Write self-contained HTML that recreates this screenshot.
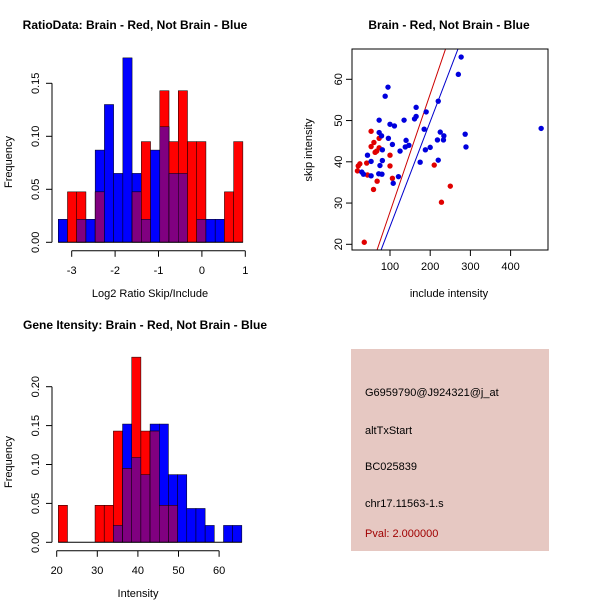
<!DOCTYPE html>
<html><head><meta charset="utf-8"><style>
html,body{margin:0;padding:0;background:#fff;width:600px;height:600px;overflow:hidden}
svg text{font-family:"Liberation Sans",sans-serif}
</style></head><body>
<svg id="s" width="600" height="600" viewBox="0 0 600 600" xmlns="http://www.w3.org/2000/svg">
<rect x="351" y="349" width="198" height="202" fill="#e6c8c2"/>
<text x="365" y="396" font-size="11">G6959790@J924321@j_at</text>
<text x="365" y="434" font-size="11">altTxStart</text>
<text x="365" y="470" font-size="11">BC025839</text>
<text x="365" y="507" font-size="11">chr17.11563-1.s</text>
<text x="365" y="537" font-size="11" fill="#a00000">Pval: 2.000000</text>
</svg>
<script>
// Ratio histogram data
const ratioBinStart = -3.31, ratioBinWidth = 0.2127;
const ratioBlue = [0.0217,0,0.0217,0.0217,0.087,0.130,0.065,0.174,0.065,0.0217,0.087,0.109,0.065,0.065,0,0.0217,0.0217,0.0217,0,0];
const ratioRed  = [0,0.0476,0.0476,0,0.0476,0,0,0,0.0476,0.095,0,0.143,0.095,0.143,0.095,0.095,0,0,0.0476,0.095];
const ratioXTicks = [-3,-2,-1,0,1];
const ratioYTicks = [0,0.05,0.10,0.15];
const ratioYLabels = ["0.00","0.05","0.10","0.15"];
// Intensity histogram data
const intBinStart = 20.4, intBinWidth = 2.26;
const intBlue = [0,0,0,0,0,0,0.0217,0.152,0.109,0.087,0.152,0.152,0.087,0.087,0.0435,0.0435,0.0217,0,0.0217,0.0217];
const intRed  = [0.0476,0,0,0,0.0476,0.0476,0.143,0.095,0.238,0.143,0.143,0.0476,0.0476,0,0,0,0,0,0,0];
const intXTicks = [20,30,40,50,60];
const intYTicks = [0,0.05,0.10,0.15,0.20];
const intYLabels = ["0.00","0.05","0.10","0.15","0.20"];
// Scatter data
const redX = [21,25,19,42,44,36,53,53,60,63,67,73,73,68,59,100,100,106,210,228,250];
const redY = [39.0,39.5,37.8,39.7,36.8,20.5,47.4,43.7,44.7,42.3,42.6,43.4,45.7,35.3,33.3,41.6,39.0,36.0,39.2,30.2,34.1];
const blueX = [30,34,44,53,53,73,73,79,81,81,75,72,80,88,95,100,111,96,106,108,121,125,135,140,138,147,161,165,165,175,185,190,188,200,218,220,220,225,233,234,270,277,287,289,476];
const blueY = [37.5,37.0,41.6,40.1,36.6,50.1,47.1,46.3,42.9,40.3,39.1,37.1,37.0,55.9,58.1,49.1,48.7,45.7,44.2,34.8,36.4,42.6,50.1,45.2,43.6,44.0,50.4,51.0,53.2,39.9,47.9,52.1,42.9,43.5,45.3,54.7,40.4,47.2,45.3,46.3,61.2,65.4,46.7,43.6,48.1];
const lineSlopes = [0.286,0.2547];
const lineIntercepts = [-0.76,-1.2];
const lineColors = ["#cc0000","#0000cc"];
const scXTicks = [100,200,300,400];
const scYTicks = [20,30,40,50,60];

const NS="http://www.w3.org/2000/svg", svg=document.getElementById('s');
function mk(tag,attrs,parent){const e=document.createElementNS(NS,tag);for(const k in attrs)e.setAttribute(k,attrs[k]);(parent||svg).appendChild(e);return e;}
function txt(x,y,s,size,extra){const t=mk('text',Object.assign({x:x,y:y,'font-size':size,'text-anchor':'middle'},extra||{}));t.textContent=s;return t;}

function hist(o){
  const g=mk('g',{});
  
  
  const X=v=>o.x0+(v-o.xv0)*o.xs, Y=v=>o.base-v*o.ys;
  for(let i=0;i<o.blue.length;i++){
    const a=X(o.bs+i*o.bw), b=X(o.bs+(i+1)*o.bw);
    if(o.blue[i]>0){const r=mk('rect',{x:a,y:Y(o.blue[i]),width:b-a,height:o.blue[i]*o.ys,fill:'#0000ff',stroke:'#000','stroke-width':0.5},g);
      
      }
    if(o.red[i]>0){const r=mk('rect',{x:a,y:Y(o.red[i]),width:b-a,height:o.red[i]*o.ys,fill:'#ff0000',stroke:'#000','stroke-width':0.5},g);
      
      }
    const m=Math.min(o.blue[i],o.red[i]);
    if(m>0){const r=mk('rect',{x:a,y:Y(m),width:b-a,height:m*o.ys,fill:'#800080',stroke:'#000','stroke-width':0.5},g);
      
      }
  }
  mk('line',{x1:X(o.bs),x2:X(o.bs+o.blue.length*o.bw),y1:o.base,y2:o.base,stroke:'#000'},g);
  const xa=o.base+8.5;
  mk('line',{x1:X(o.xt[0]),x2:X(o.xt[o.xt.length-1]),y1:xa,y2:xa,stroke:'#000'},g);
  o.xt.forEach(v=>{mk('line',{x1:X(v),x2:X(v),y1:xa,y2:xa+6,stroke:'#000'},g);
    const t=txt(X(v),xa+23,String(v),11,{});});
  mk('line',{x1:52,x2:52,y1:Y(o.yt[0]),y2:Y(o.yt[o.yt.length-1]),stroke:'#000'},g);
  o.yt.forEach((v,i)=>{mk('line',{x1:46,x2:52,y1:Y(v),y2:Y(v),stroke:'#000'},g);
    const t=txt(39,Y(v),o.yl[i],11,{transform:`rotate(-90 39 ${Y(v)})`});});
}
hist({name:'ratio-histogram',blue:ratioBlue,red:ratioRed,bs:ratioBinStart,bw:ratioBinWidth,x0:71.7,xv0:-3,xs:43.4,base:242.3,ys:1060,xt:ratioXTicks,yt:ratioYTicks,yl:ratioYLabels});
hist({name:'intensity-histogram',blue:intBlue,red:intRed,bs:intBinStart,bw:intBinWidth,x0:56.7,xv0:20,xs:4.06,base:542.3,ys:778,xt:intXTicks,yt:intYTicks,yl:intYLabels});

let t;
t=txt(135,29,'RatioData: Brain - Red, Not Brain - Blue',12,{'font-weight':'bold'});
t=txt(150,297,'Log2 Ratio Skip/Include',11);
t=txt(12,162,'Frequency',11,{transform:'rotate(-90 12 162)'});
t=txt(145,329,'Gene Itensity: Brain - Red, Not Brain - Blue',12,{'font-weight':'bold'});
t=txt(138,597,'Intensity',11);
t=txt(12,462,'Frequency',11,{transform:'rotate(-90 12 462)'});
t=txt(449,29,'Brain - Red, Not Brain - Blue',12,{'font-weight':'bold'});
t=txt(449,297,'include intensity',11);
t=txt(312,150,'skip intensity',11,{transform:'rotate(-90 312 150)'});

const SX=v=>349.8+v*0.402, SY=v=>244.3-(v-20)*4.125;
const L=352,T=49,R=548,B=250;
mk('defs',{}).innerHTML='<clipPath id="cp"><rect x="352" y="49" width="196" height="201"/></clipPath>';
const sg=mk('g',{'clip-path':'url(#cp)'});


lineSlopes.forEach((m,i)=>{const x1=0,x2=500;
  const l=mk('line',{x1:SX(x1),y1:SY(lineIntercepts[i]+m*x1),x2:SX(x2),y2:SY(lineIntercepts[i]+m*x2),stroke:lineColors[i],'stroke-width':1},sg);
  
  });
redX.forEach((v,i)=>{const c=mk('circle',{cx:SX(v),cy:SY(redY[i]),r:2.7,fill:'#e00000'},sg);
  
  });
blueX.forEach((v,i)=>{const c=mk('circle',{cx:SX(v),cy:SY(blueY[i]),r:2.7,fill:'#0000dd'},sg);
  
  });
mk('rect',{x:L,y:T,width:R-L,height:B-T,fill:'none',stroke:'#000'});
scXTicks.forEach(v=>{mk('line',{x1:SX(v),x2:SX(v),y1:B,y2:B+6,stroke:'#000'});
  const t=txt(SX(v),B+20,String(v),11);});
scYTicks.forEach(v=>{mk('line',{x1:L-6,x2:L,y1:SY(v),y2:SY(v),stroke:'#000'});
  const t=txt(L-10,SY(v),String(v),11,{transform:`rotate(-90 ${L-10} ${SY(v)})`});});
</script>
</body></html>
